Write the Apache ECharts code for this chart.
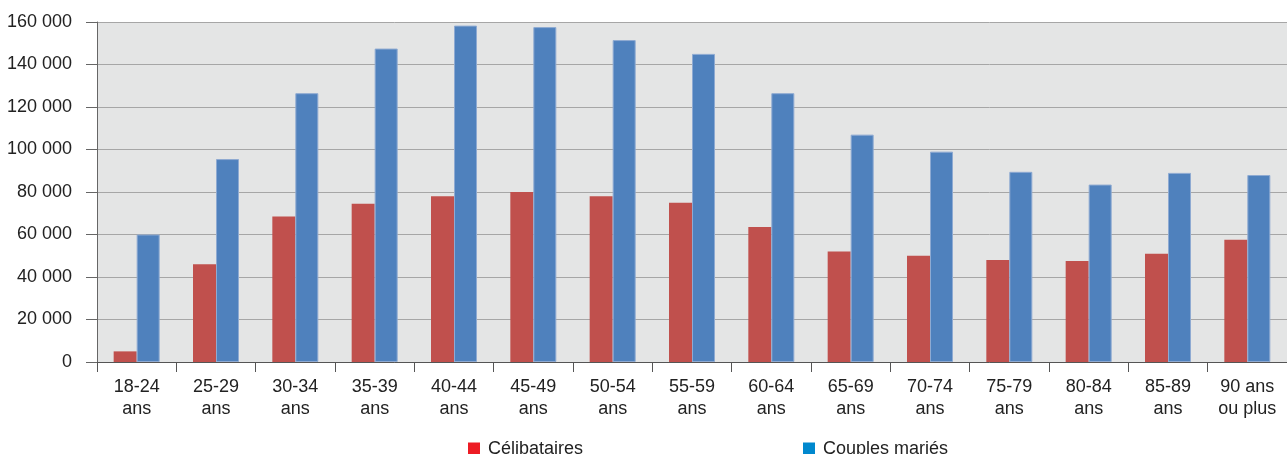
<!DOCTYPE html>
<html><head><meta charset="utf-8">
<script src="https://cdn.jsdelivr.net/npm/echarts@6/dist/echarts.min.js"></script>
<style>html,body{margin:0;padding:0;background:#fff}#c{width:1287px;height:454px}</style>
</head><body><div id="c"></div>
<script>
const categories = ['18-24\nans','25-29\nans','30-34\nans','35-39\nans','40-44\nans','45-49\nans','50-54\nans','55-59\nans','60-64\nans','65-69\nans','70-74\nans','75-79\nans','80-84\nans','85-89\nans','90 ans\nou plus'];
const celibataires = [5000, 46000, 68500, 74500, 78000, 80000, 78000, 75000, 63500, 52000, 50000, 48000, 47500, 51000, 57500];
const couplesMaries = [60000, 95500, 126500, 147500, 158300, 157600, 151500, 145000, 126500, 107000, 99000, 89500, 83500, 89000, 88000];
const seriesNames = ['Célibataires', 'Couples mariés'];
const yTicks = [0, 20000, 40000, 60000, 80000, 100000, 120000, 140000, 160000];

const font = 'Liberation Sans, Arial, sans-serif';
const chart = echarts.init(document.getElementById('c'), null, {renderer: 'canvas'});
const legendText = {fontSize: 18, color: '#222', fontFamily: font, padding: [0, 0, 0, 3]};
chart.setOption({
  animation: false,
  textStyle: {fontFamily: font},
  grid: {left: 97, top: 22, bottom: 92, width: 1194, show: true, backgroundColor: '#E4E5E5', borderWidth: 0, containLabel: false},
  legend: [
    {data: [{name: seriesNames[0], icon: 'rect', itemStyle: {color: '#ED1C24', borderWidth: 0}}], left: 463, top: 435, itemWidth: 12, itemHeight: 13,
     textStyle: legendText},
    {data: [{name: seriesNames[1], icon: 'rect', itemStyle: {color: '#0088CE', borderWidth: 0}}], left: 798, top: 435, itemWidth: 12, itemHeight: 13,
     textStyle: legendText}
  ],
  xAxis: {
    type: 'category', data: categories,
    axisLine: {show: true, lineStyle: {color: '#555', width: 1}},
    axisTick: {show: true, length: 10, lineStyle: {color: '#555'}},
    axisLabel: {fontSize: 18, color: '#222', lineHeight: 22, margin: 14, interval: 0, fontFamily: font}
  },
  yAxis: {
    type: 'value', min: 0, max: yTicks[yTicks.length-1], interval: yTicks[1]-yTicks[0],
    axisLine: {show: true, lineStyle: {color: '#666'}},
    axisTick: {show: true, length: 11, lineStyle: {color: '#666'}},
    axisLabel: {fontSize: 18, color: '#222', margin: 25, fontFamily: font,
      formatter: v => String(v).replace(/\B(?=(\d{3})+(?!\d))/g, ' ')},
    splitLine: {show: true, lineStyle: {color: '#A6A6A6', width: 1}}
  },
  series: [
    {name: seriesNames[0], type: 'bar', data: celibataires, barWidth: 23, barGap: '0%',
     itemStyle: {color: '#C0504D'}},
    {name: seriesNames[1], type: 'bar', data: couplesMaries, barWidth: 23, barGap: '0%',
     itemStyle: {color: '#4F81BD', borderColor: '#8EAAD2', borderWidth: 1}}
  ]
});
</script></body></html>
